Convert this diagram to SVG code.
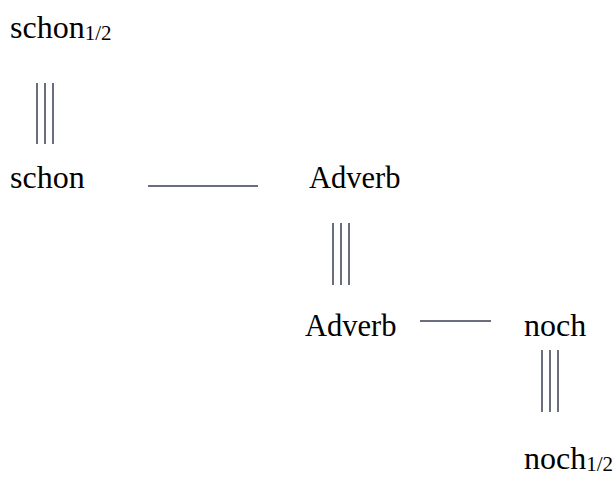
<svg xmlns="http://www.w3.org/2000/svg" width="614" height="484" viewBox="0 0 614 484">
<style>
text{font-family:"Liberation Serif","Times New Roman",serif;font-size:32px;fill:#000}
.adv{font-size:30.5px}
.sub{font-size:21px}
.ln{stroke:#6b6e7e;stroke-width:2;fill:none}
</style>
<rect width="614" height="484" fill="#fff"/>
<g id="n1"><text x="10" y="38">schon<tspan class="sub" dy="2">1/2</tspan></text></g>
<g id="n2"><text x="10" y="188">schon</text></g>
<g id="n3"><text class="adv" x="309" y="188">Adverb</text></g>
<g id="n4"><text class="adv" x="305" y="336">Adverb</text></g>
<g id="n5"><text x="524" y="336">noch</text></g>
<g id="n6"><text x="524" y="469">noch<tspan class="sub" dy="2">1/2</tspan></text></g>
<g id="connectors">
<path class="ln" d="M37 83V144M45 83V144M53 83V144"/>
<path class="ln" d="M148 186H258"/>
<path class="ln" d="M333 223V285M341 223V285M349 223V285"/>
<path class="ln" d="M420 321H491"/>
<path class="ln" d="M542 350V412M550 350V412M558 350V412"/>
</g>
</svg>
